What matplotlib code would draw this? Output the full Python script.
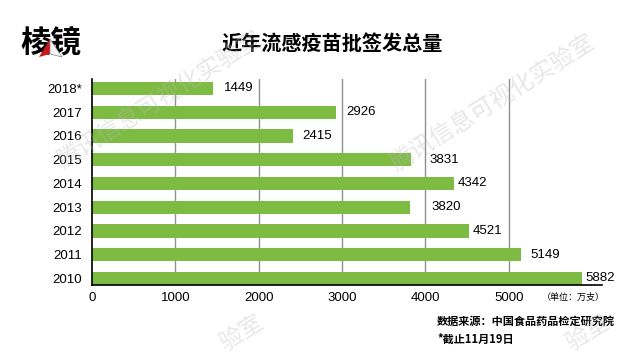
import matplotlib.pyplot as plt
from matplotlib.patches import Polygon

# data
years = ['2018*', '2017', '2016', '2015', '2014', '2013', '2012', '2011', '2010']
doses = [1449, 2926, 2415, 3831, 4342, 3820, 4521, 5149, 5882]
x_ticks = [0, 1000, 2000, 3000, 4000, 5000]
# hand-placed gap (pixels) between bar end and its label, as in the original
label_gap = [11, 10, 9, 18, 4, 21, 4, 9, 3]

CJK = ['Noto Sans CJK SC', 'DejaVu Sans']
LAT = ['Liberation Sans', 'DejaVu Sans']
GREEN = '#7dbb42'


def main():
    W, H = 641, 354
    fig = plt.figure(figsize=(W / 100, H / 100), dpi=100)
    fig.patch.set_facecolor('white')

    # axes box in pixels: left 92, right 602, top 79, bottom 285
    ax = fig.add_axes([92 / W, 1 - 285 / H, (602 - 92) / W, (285 - 79) / H])
    n = len(years)
    ypos = [n - 1 - i for i in range(n)]
    bar_h = 0.55

    for g in x_ticks[1:]:
        ax.axvline(g, color='#8f8f8f', lw=1.0, zorder=0)
    ax.barh(ypos, doses, height=bar_h, color=GREEN, zorder=2)

    px_per_unit = (602 - 92) / 6120
    for y, v, gap in zip(ypos, doses, label_gap):
        ax.text(v + gap / px_per_unit, y, str(v), ha='left', va='center',
                fontsize=9.5, family=LAT, color='black', zorder=3)

    ax.set_xlim(0, 6120)
    ax.set_ylim(-bar_h / 2, n - 1 + 0.4)
    ax.set_xticks(x_ticks)
    ax.set_xticklabels([str(t) for t in x_ticks], family=LAT, fontsize=9.5)
    ax.set_yticks(ypos)
    ax.set_yticklabels(years, family=LAT, fontsize=9.5)
    ax.tick_params(axis='both', length=0)
    ax.tick_params(axis='x', pad=5)
    ax.tick_params(axis='y', pad=7)
    for s in ['top', 'right']:
        ax.spines[s].set_visible(False)
    for s in ['left', 'bottom']:
        ax.spines[s].set_color('black')
        ax.spines[s].set_linewidth(1.2)
    ax.set_facecolor('none')

    # title and notes
    fig.text(332 / W, 1 - 43 / H, '近年流感疫苗批签发总量', ha='center',
             va='center', fontsize=14.5, fontweight='bold', family=CJK)
    fig.text(573 / W, 1 - 297 / H, '（单位：万支）', ha='center', va='center',
             fontsize=6.5, family=CJK)
    fig.text(437 / W, 1 - 321 / H, '数据来源：中国食品药品检定研究院',
             ha='left', va='center', fontsize=8, fontweight='bold', family=CJK)
    fig.text(437 / W, 1 - 339 / H, '*截止11月19日', ha='left', va='center',
             fontsize=8, fontweight='bold', family=CJK)

    # logo
    fig.text(51 / W, 1 - 42 / H, '棱镜', ha='center', va='center',
             fontsize=22, fontweight='heavy', family=CJK, color='black')
    to_fig = lambda pts: [(x / W, 1 - y / H) for x, y in pts]
    fig.patches.append(Polygon(to_fig([(50, 39), (39, 57), (50, 54)]),
                               closed=True, transform=fig.transFigure,
                               facecolor='#c8161d', edgecolor='none',
                               zorder=5))
    fig.patches.append(Polygon(to_fig([(50, 39), (62, 57), (50, 54)]),
                               closed=True, transform=fig.transFigure,
                               facecolor='#f4f4f4', edgecolor='#888888',
                               lw=0.5, zorder=5))

    # watermarks (the lower pair is cut by the image edge in the original,
    # so only the visible characters are drawn)
    marks = [('腾讯信息可视化实验室', 160, 100), ('腾讯信息可视化实验室', 493, 103),
             ('验室', 242, 333), ('验室', 588, 333)]
    for txt, cx, cy in marks:
        fig.text(cx / W, 1 - cy / H, txt, ha='center', va='center',
                 rotation=32, rotation_mode='anchor', fontsize=17,
                 family=CJK, color='#bcbcbc', alpha=0.35, zorder=10)

    fig.savefig('out.png', dpi=100)


if __name__ == '__main__':
    main()
